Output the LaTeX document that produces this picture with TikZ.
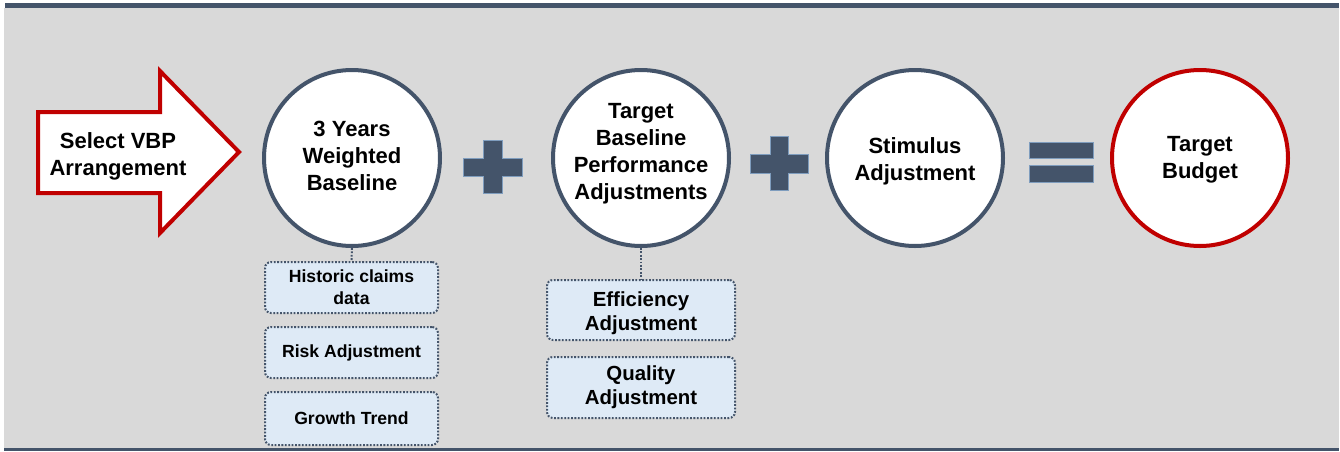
\documentclass[tikz,border=0pt]{standalone}
\usepackage{fontspec}
\setmainfont{Liberation Sans}
\definecolor{slate}{HTML}{44546A}
\definecolor{bg}{HTML}{D9D9D9}
\definecolor{boxfill}{HTML}{DEEAF6}
\definecolor{redc}{HTML}{C00000}
\definecolor{rim}{HTML}{7F9DBE}
\tikzset{
  circ/.style={circle, draw=slate, line width=2pt, fill=white, minimum size=88pt, inner sep=0pt},
  redcirc/.style={circ, draw=redc},
  ctext/.style={align=center, inner sep=0pt, font=\bfseries\fontsize{11}{13.5}\selectfont},
  subbox/.style={draw=slate, line width=1pt, dash pattern=on 0.9pt off 0.8pt, fill=boxfill, rounded corners=3pt, inner sep=0pt, align=center},
  lbox/.style={subbox, minimum width=86.5pt, font=\bfseries\fontsize{8.8}{11}\selectfont},
  rbox/.style={subbox, minimum width=94pt, font=\bfseries\fontsize{10.2}{12}\selectfont},
  rtext/.style={align=center, inner sep=0pt, font=\bfseries\fontsize{10.2}{12}\selectfont},
  link/.style={draw=slate, line width=1pt, dash pattern=on 0.9pt off 0.8pt},
  sym/.style={fill=slate, draw=rim, line width=0.4pt},
}
\begin{document}
\begin{tikzpicture}[x=0.5pt, y=-0.5pt]
\useasboundingbox (0,0) rectangle (1340,451);
% background
\fill[bg] (4,8) rectangle (1339,449);
\fill[slate] (5,3) rectangle (1339,8);
\fill[slate] (4,448) rectangle (1339,451);
% arrow
\draw[redc, line width=2pt, fill=white, line join=miter]
  (38,112) -- (160,112) -- (160,71) -- (239,152) -- (160,233) -- (160,193) -- (38,193) -- cycle;
\node[ctext] (sel) at (118,156) {Select VBP\\Arrangement};
% circles
\node[circ] (c1) at (352,158) {};
\node[circ] (c2) at (641,158) {};
\node[circ] (c3) at (915,158) {};
\node[redcirc] (c4) at (1200,158) {};
\node[ctext] (t1) at (352,156) {3 Years\\Weighted\\Baseline};
\node[ctext] (t2) at (641,154) {Target\\Baseline\\Performance\\Adjustments};
\node[ctext] (t3) at (915,161) {Stimulus\\Adjustment};
\node[ctext] (t4) at (1200,160) {Target\\Budget};
% plus signs
\path[sym] (483,140) -- (502,140) -- (502,158) -- (522,158) -- (522,176) -- (502,176) -- (502,193) -- (483,193) -- (483,176) -- (463,176) -- (463,158) -- (483,158) -- cycle;
\path[sym] (770,136) -- (788,136) -- (788,154) -- (808,154) -- (808,173) -- (788,173) -- (788,190) -- (770,190) -- (770,173) -- (750,173) -- (750,154) -- (770,154) -- cycle;
% equals
\path[sym] (1029,142) rectangle (1093,158);
\path[sym] (1029,165) rectangle (1093,182);
% left boxes
\node[lbox, minimum height=25.5pt] (b1) at (351.5,287.5) {Historic claims\\data};
\node[lbox, minimum height=25.5pt] (b2) at (351.5,352.5) {Risk Adjustment};
\node[lbox, minimum height=26.5pt] (b3) at (351.5,418.5) {Growth Trend};
% right boxes
\node[rbox, minimum height=30pt] (r1) at (641,310) {};
\node[rtext] (r1t) at (641,313) {Efficiency\\Adjustment};
\node[rbox, minimum height=30.5pt] (r2) at (641,387.5) {Quality\\Adjustment};
% links
\draw[link] (c1.south) -- (b1.north);
\draw[link] (c2.south) -- (r1.north);
\end{tikzpicture}
\end{document}
